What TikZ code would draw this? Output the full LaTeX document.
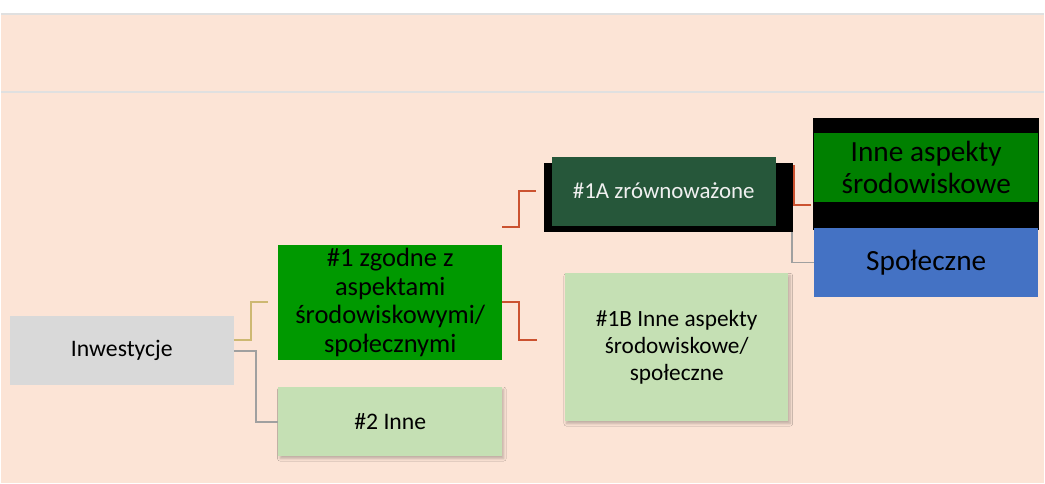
\documentclass[tikz,border=0pt]{standalone}
\usepackage{fontspec}
\setmainfont{Carlito}
\usetikzlibrary{shadows.blur}
\definecolor{mmPeach}{HTML}{FCE4D6}
\definecolor{mmRule}{HTML}{E0E0E0}
\definecolor{mmGray}{HTML}{D9D9D9}
\definecolor{mmGreen}{HTML}{009900}
\definecolor{mmLightGreen}{HTML}{C5E0B4}
\definecolor{mmDarkGreen}{HTML}{26573A}
\definecolor{mmMidGreen}{HTML}{008000}
\definecolor{mmBlue}{HTML}{4472C4}
\definecolor{mmTan}{HTML}{CDB872}
\definecolor{mmRed}{HTML}{CB5230}
\definecolor{mmLink}{HTML}{A0A0A0}
\tikzset{
  mmbox/.style={rectangle, inner sep=2pt, align=center, text=black,
                minimum width=168pt, minimum height=51.75pt},
  mmshade/.style={blur shadow={shadow blur steps=6, shadow xshift=1.2pt,
                  shadow yshift=-1.8pt, shadow opacity=25}},
  mmlink/.style={line width=1.4pt},
}

\begin{document}
\begin{tikzpicture}[x=0.75pt, y=-0.75pt, font=\fontsize{17.8}{21}\selectfont]
  \fill[white] (0,0) rectangle (1045,484);
  \fill[mmPeach] (0,14) rectangle (1045,484);
  \draw[mmRule, line width=1.5pt] (0,14) -- (1045,14);
  \draw[mmRule, line width=1.5pt] (0,92) -- (1045,92);
  \node[mmbox, fill=mmGray](inw) at (121,351.5){Inwestycje};
  \node[mmbox, fill=mmGreen, minimum height=85.5pt,
        font=\fontsize{19.9}{21.75}\selectfont](z1) at (390,303)
        {\#1 zgodne z\\aspektami\\środowiskowymi/\\społecznymi};
  \node[mmbox, fill=mmLightGreen, mmshade](in2) at (390,422.5){\#2 Inne};
  \node[mmbox, fill=black, minimum width=187.5pt](z1abg) at (669,197.5){};
  \node[mmbox, fill=mmDarkGreen, text=white!94!black,
        font=\fontsize{17.2}{21}\selectfont](z1a) at (664,191.5){\#1A zrównoważone};
  \node[mmbox, fill=mmLightGreen, minimum height=111pt, mmshade,
        font=\fontsize{17.5}{20}\selectfont](z1b) at (677,348)
        {\#1B Inne aspekty\\środowiskowe/\\społeczne};
  \node[mmbox, fill=black, minimum width=169.5pt, minimum height=84pt](innebg) at (927,174){};
  \node[mmbox, fill=mmMidGreen, font=\fontsize{22}{23.8}\selectfont](inne) at (927,167.5)
        {Inne aspekty\\środowiskowe};
  \node[mmbox, fill=mmBlue, minimum height=52.5pt,
        font=\fontsize{22}{24}\selectfont](spol) at (927,263){Społeczne};
  \coordinate (e1) at (268,303);
  \coordinate (e1a) at (536,191);
  \coordinate (e1b) at (537,341);
  \coordinate (e2) at (812,205);
  \draw[mmlink, mmTan](inw.east) ++(0,-10.5) -- ++(17,0) |- (e1);
  \draw[mmlink, mmLink](inw.east) -- ++(22,0) |- (in2.west);
  \draw[mmlink, mmRed](z1.east) -- ++(17,0) |- (e1b);
  \draw[mmlink, mmRed](z1.north east) ++(0,-18) -- ++(17,0) |- (e1a);
  \draw[mmlink, mmRed](z1abg.north east) ++(0,3) |- (e2);
  \draw[mmlink, mmLink](z1abg.south east) ++(-2,0) |- (spol.west);
\end{tikzpicture}
\end{document}
